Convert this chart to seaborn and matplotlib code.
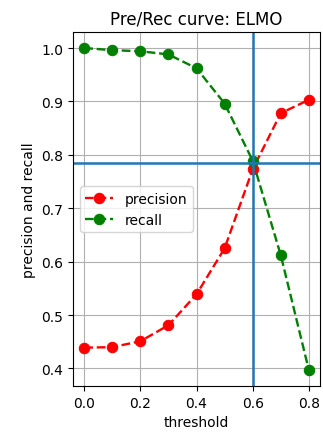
import numpy as np
import matplotlib
matplotlib.use("Agg")
import matplotlib.pyplot as plt
import seaborn as sns
import pandas as pd

# data
thresholds = [0.0, 0.1, 0.2, 0.3, 0.4, 0.5, 0.6, 0.7, 0.8]
precision = [0.439, 0.440, 0.451, 0.481, 0.539, 0.625, 0.773, 0.878, 0.903]
recall = [1.000, 0.996, 0.994, 0.988, 0.962, 0.896, 0.789, 0.612, 0.397]
best_threshold = 0.6
best_value = 0.784

df = pd.DataFrame({"threshold": thresholds, "precision": precision, "recall": recall})

fig = plt.figure(figsize=(3.23, 4.39), dpi=100)
ax = fig.add_axes([0.226, 0.118, 0.765, 0.807])

sns.lineplot(data=df, x="threshold", y="precision", color="red", marker="o",
             linestyle="--", markeredgecolor="red", markersize=7.5, linewidth=1.7,
             label="precision", ax=ax)
sns.lineplot(data=df, x="threshold", y="recall", color="green", marker="o",
             linestyle="--", markeredgecolor="green", markersize=7.5, linewidth=1.7,
             label="recall", ax=ax)
ax.axvline(best_threshold, linewidth=1.8)
ax.axhline(best_value, linewidth=1.8)

ax.grid(True)
ax.set_title("Pre/Rec curve: ELMO")
ax.set_xlabel("threshold")
ax.set_ylabel("precision and recall")
ax.legend(loc="center left")

plt.savefig("out.png", dpi=100)
